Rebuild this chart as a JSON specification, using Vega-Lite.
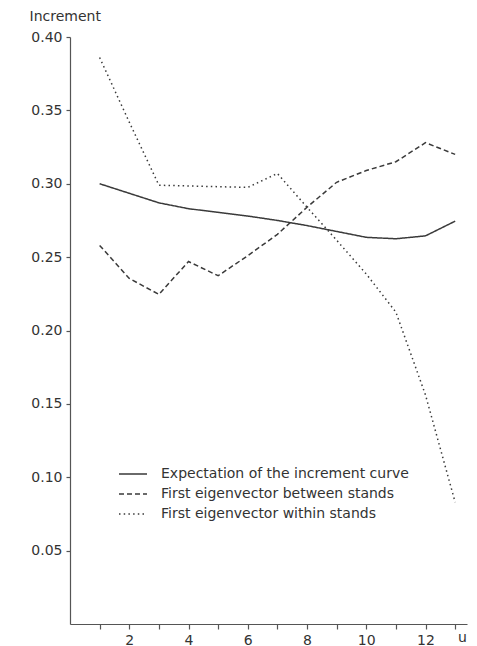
{
  "$schema": "https://vega.github.io/schema/vega-lite/v6.json",
  "width": 397,
  "height": 587,
  "autosize": {"type": "none"},
  "padding": {"left": 70, "top": 37, "right": 10, "bottom": 22},
  "background": "white",
  "config": {
    "view": {"stroke": null},
    "font": "DejaVu Sans",
    "axis": {"grid": false, "domainColor": "#555", "tickColor": "#555", "labelColor": "#333", "titleColor": "#333", "labelFont": "DejaVu Sans", "titleFont": "DejaVu Sans", "labelFontSize": 14, "titleFontSize": 14, "titleFontWeight": "normal", "domainWidth": 1.2, "tickWidth": 1.2}
  },
  "data": {
    "values": [
      {"u": 1, "series": "Expectation of the increment curve", "value": 0.300},
      {"u": 2, "series": "Expectation of the increment curve", "value": 0.2935},
      {"u": 3, "series": "Expectation of the increment curve", "value": 0.287},
      {"u": 4, "series": "Expectation of the increment curve", "value": 0.283},
      {"u": 5, "series": "Expectation of the increment curve", "value": 0.2805},
      {"u": 6, "series": "Expectation of the increment curve", "value": 0.278},
      {"u": 7, "series": "Expectation of the increment curve", "value": 0.275},
      {"u": 8, "series": "Expectation of the increment curve", "value": 0.2715},
      {"u": 9, "series": "Expectation of the increment curve", "value": 0.2675},
      {"u": 10, "series": "Expectation of the increment curve", "value": 0.2635},
      {"u": 11, "series": "Expectation of the increment curve", "value": 0.2625},
      {"u": 12, "series": "Expectation of the increment curve", "value": 0.2645},
      {"u": 13, "series": "Expectation of the increment curve", "value": 0.2745},
      {"u": 1, "series": "First eigenvector between stands", "value": 0.258},
      {"u": 2, "series": "First eigenvector between stands", "value": 0.2355},
      {"u": 3, "series": "First eigenvector between stands", "value": 0.2246},
      {"u": 4, "series": "First eigenvector between stands", "value": 0.247},
      {"u": 5, "series": "First eigenvector between stands", "value": 0.2373},
      {"u": 6, "series": "First eigenvector between stands", "value": 0.251},
      {"u": 7, "series": "First eigenvector between stands", "value": 0.2655},
      {"u": 8, "series": "First eigenvector between stands", "value": 0.284},
      {"u": 9, "series": "First eigenvector between stands", "value": 0.301},
      {"u": 10, "series": "First eigenvector between stands", "value": 0.309},
      {"u": 11, "series": "First eigenvector between stands", "value": 0.315},
      {"u": 12, "series": "First eigenvector between stands", "value": 0.328},
      {"u": 13, "series": "First eigenvector between stands", "value": 0.320},
      {"u": 1, "series": "First eigenvector within stands", "value": 0.386},
      {"u": 2, "series": "First eigenvector within stands", "value": 0.342},
      {"u": 3, "series": "First eigenvector within stands", "value": 0.299},
      {"u": 4, "series": "First eigenvector within stands", "value": 0.2985},
      {"u": 5, "series": "First eigenvector within stands", "value": 0.298},
      {"u": 6, "series": "First eigenvector within stands", "value": 0.2975},
      {"u": 7, "series": "First eigenvector within stands", "value": 0.307},
      {"u": 8, "series": "First eigenvector within stands", "value": 0.284},
      {"u": 9, "series": "First eigenvector within stands", "value": 0.2615},
      {"u": 10, "series": "First eigenvector within stands", "value": 0.2385},
      {"u": 11, "series": "First eigenvector within stands", "value": 0.2125},
      {"u": 12, "series": "First eigenvector within stands", "value": 0.156},
      {"u": 13, "series": "First eigenvector within stands", "value": 0.083}
    ]
  },
  "mark": {"type": "line", "color": "#3a3a3a", "strokeWidth": 1.5},
  "encoding": {
    "x": {
      "field": "u", "type": "quantitative",
      "scale": {"domain": [0, 13.4], "nice": false, "zero": false},
      "axis": {
        "values": [1, 2, 3, 4, 5, 6, 7, 8, 9, 10, 11, 12, 13],
        "labelExpr": "datum.value % 2 == 0 ? datum.label : ''",
        "tickSize": 5, "labelPadding": 4, "labelFlush": false,
        "title": "u", "titleX": 392, "titleY": 13, "titleAlign": "center", "titleBaseline": "middle"
      }
    },
    "y": {
      "field": "value", "type": "quantitative",
      "scale": {"domain": [0, 0.4], "nice": false},
      "axis": {
        "values": [0.05, 0.1, 0.15, 0.2, 0.25, 0.3, 0.35, 0.4],
        "format": ".2f",
        "tickSize": 4, "labelPadding": 4,
        "title": "Increment", "titleAngle": 0, "titleX": -41, "titleY": -21, "titleAlign": "left", "titleBaseline": "middle"
      }
    },
    "strokeDash": {
      "field": "series", "type": "nominal",
      "scale": {
        "domain": ["Expectation of the increment curve", "First eigenvector between stands", "First eigenvector within stands"],
        "range": [[1, 0], [5, 3], [1.5, 3.2]]
      },
      "legend": {
        "title": null, "orient": "none", "legendX": 55, "legendY": 429, "padding": 0,
        "symbolType": "M-2,0H2", "symbolSize": 196, "symbolStrokeWidth": 1.4, "symbolStrokeColor": "#3a3a3a", "symbolFillColor": "transparent",
        "labelFont": "DejaVu Sans", "labelFontSize": 14, "labelColor": "#333", "labelOffset": 20, "rowPadding": 5, "labelLimit": 400
      }
    }
  }
}
